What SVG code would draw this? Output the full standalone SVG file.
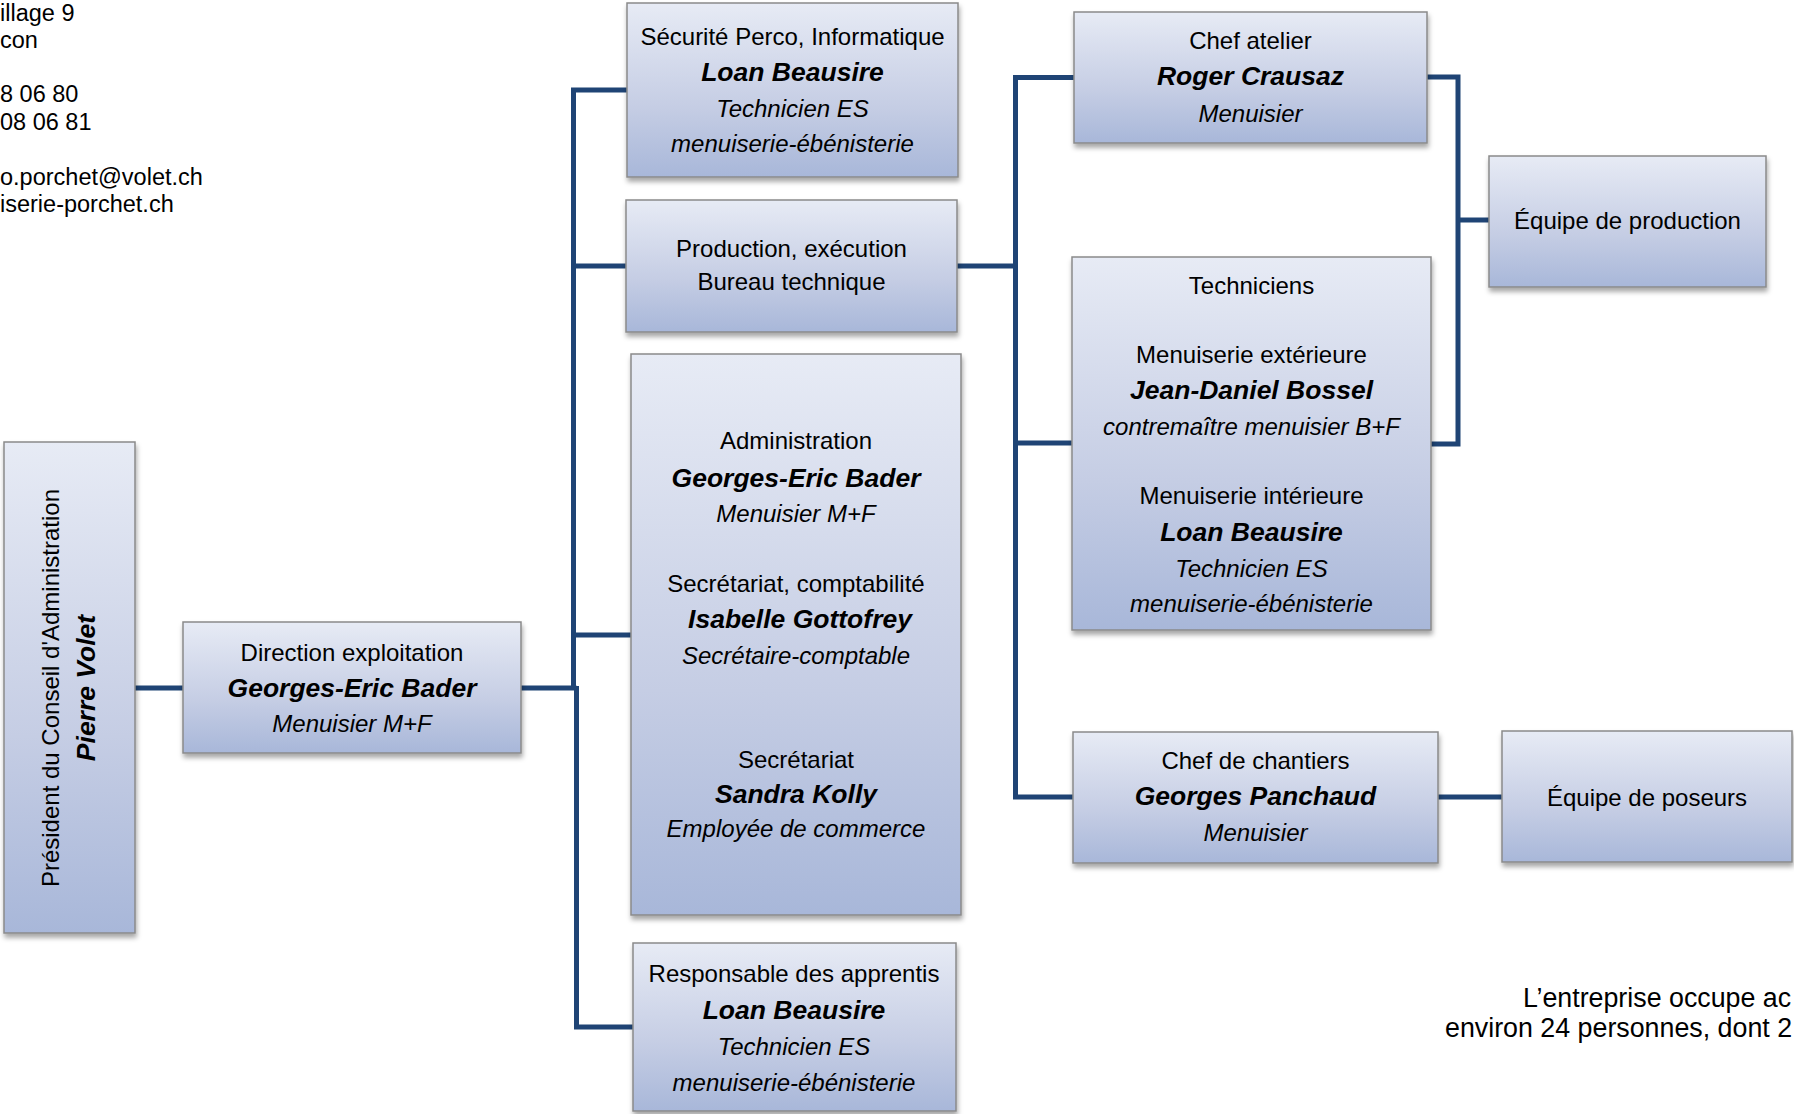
<svg xmlns="http://www.w3.org/2000/svg" width="1794" height="1114" viewBox="0 0 1794 1114">
<defs>
<linearGradient id="boxg" x1="0" y1="0" x2="0" y2="1">
<stop offset="0" stop-color="#e7ebf5"/>
<stop offset="0.6" stop-color="#c5cde4"/>
<stop offset="1" stop-color="#a8b7d9"/>
</linearGradient>
<filter id="sh" x="-5%" y="-5%" width="112%" height="115%">
<feDropShadow dx="1" dy="4" stdDeviation="2.5" flood-color="#000" flood-opacity="0.35"/>
</filter>
</defs>
<style>
.box{fill:url(#boxg);stroke:#8a8a8a;stroke-width:1.5;filter:url(#sh)}
.t{font-family:"Liberation Sans",Arial,Helvetica,sans-serif;font-size:24px;fill:#000;text-anchor:middle}
.b{font-weight:bold;font-style:italic;font-size:26.5px}
.i{font-style:italic}
.c{fill:none;stroke:#1f4475;stroke-width:5;stroke-linejoin:miter;stroke-linecap:butt}
.s{font-family:"Liberation Sans",Arial,Helvetica,sans-serif;fill:#000}
</style>
<rect width="1794" height="1114" fill="#fff"/>

<g id="contact" class="s" style="font-size:23.5px">
<text x="0" y="21">illage 9</text>
<text x="0" y="47.5">con</text>
<text x="0" y="101.5">8 06 80</text>
<text x="0" y="129.5">08 06 81</text>
<text x="0" y="184.5">o.porchet@volet.ch</text>
<text x="0" y="211.5">iserie-porchet.ch</text>
</g>

<g id="connectors">
<path class="c" d="M135,688 H183"/>
<path class="c" d="M521,688 H576.5"/>
<path class="c" d="M627,90 H573.5 V690"/>
<path class="c" d="M573.5,266 H626"/>
<path class="c" d="M573.5,635 H631"/>
<path class="c" d="M576.5,686 V1027 H633"/>
<path class="c" d="M957,266 H1015.5"/>
<path class="c" d="M1074,77.5 H1015.5 V797 H1073"/>
<path class="c" d="M1015.5,443 H1072"/>
<path class="c" d="M1427,77 H1458 V444 H1431"/>
<path class="c" d="M1458,220 H1489"/>
<path class="c" d="M1438,797 H1502"/>
</g>

<g id="president">
<rect class="box" x="4" y="442" width="131" height="491"/>
<text class="t" transform="translate(58.5,688) rotate(-90)">Président du Conseil d'Administration</text>
<text class="t b" transform="translate(95,688) rotate(-90)">Pierre Volet</text>
</g>

<g id="direction">
<rect class="box" x="183" y="622" width="338" height="131"/>
<text class="t" x="352" y="660.5">Direction exploitation</text>
<text class="t b" x="352" y="696.5">Georges-Eric Bader</text>
<text class="t i" x="352" y="731.5">Menuisier M+F</text>
</g>

<g id="securite">
<rect class="box" x="627" y="3" width="331" height="174"/>
<text class="t" x="792.5" y="44.5">Sécurité Perco, Informatique</text>
<text class="t b" x="792.5" y="81">Loan Beausire</text>
<text class="t i" x="792.5" y="116.5">Technicien ES</text>
<text class="t i" x="792.5" y="151.5">menuiserie-ébénisterie</text>
</g>

<g id="production">
<rect class="box" x="626" y="200" width="331" height="132"/>
<text class="t" x="791.5" y="256.5">Production, exécution</text>
<text class="t" x="791.5" y="290">Bureau technique</text>
</g>

<g id="administration">
<rect class="box" x="631" y="354" width="330" height="561"/>
<text class="t" x="796" y="449">Administration</text>
<text class="t b" x="796" y="486.5">Georges-Eric Bader</text>
<text class="t i" x="796" y="521.5">Menuisier M+F</text>
<text class="t" x="796" y="592">Secrétariat, comptabilité</text>
<text class="t b" x="800" y="627.5">Isabelle Gottofrey</text>
<text class="t i" x="796" y="663.5">Secrétaire-comptable</text>
<text class="t" x="796" y="767.5">Secrétariat</text>
<text class="t b" x="796" y="802.5">Sandra Kolly</text>
<text class="t i" x="796" y="836.5">Employée de commerce</text>
</g>

<g id="apprentis">
<rect class="box" x="633" y="943" width="323" height="168"/>
<text class="t" x="794" y="981.5">Responsable des apprentis</text>
<text class="t b" x="794" y="1018.5">Loan Beausire</text>
<text class="t i" x="794" y="1054.5">Technicien ES</text>
<text class="t i" x="794" y="1091">menuiserie-ébénisterie</text>
</g>

<g id="chef-atelier">
<rect class="box" x="1074" y="12" width="353" height="131"/>
<text class="t" x="1250.5" y="48.5">Chef atelier</text>
<text class="t b" x="1250.5" y="84.5">Roger Crausaz</text>
<text class="t i" x="1250.5" y="121.5">Menuisier</text>
</g>

<g id="techniciens">
<rect class="box" x="1072" y="257" width="359" height="373"/>
<text class="t" x="1251.5" y="293.5">Techniciens</text>
<text class="t" x="1251.5" y="362.5">Menuiserie extérieure</text>
<text class="t b" x="1251.5" y="399">Jean-Daniel Bossel</text>
<text class="t i" x="1251.5" y="435">contremaître menuisier B+F</text>
<text class="t" x="1251.5" y="504">Menuiserie intérieure</text>
<text class="t b" x="1251.5" y="541">Loan Beausire</text>
<text class="t i" x="1251.5" y="577">Technicien ES</text>
<text class="t i" x="1251.5" y="612">menuiserie-ébénisterie</text>
</g>

<g id="equipe-production">
<rect class="box" x="1489" y="156" width="277" height="131"/>
<text class="t" x="1627.5" y="229">Équipe de production</text>
</g>

<g id="chef-chantiers">
<rect class="box" x="1073" y="732" width="365" height="131"/>
<text class="t" x="1255.5" y="768.5">Chef de chantiers</text>
<text class="t b" x="1255.5" y="804.5">Georges Panchaud</text>
<text class="t i" x="1255.5" y="841">Menuisier</text>
</g>

<g id="equipe-poseurs">
<rect class="box" x="1502" y="731" width="290" height="131"/>
<text class="t" x="1647" y="805.5">Équipe de poseurs</text>
</g>

<g id="note" class="s" style="font-size:26.8px">
<text x="1523" y="1007">L’entreprise occupe ac</text>
<text x="1445" y="1037">environ 24 personnes, dont 2</text>
</g>
</svg>
